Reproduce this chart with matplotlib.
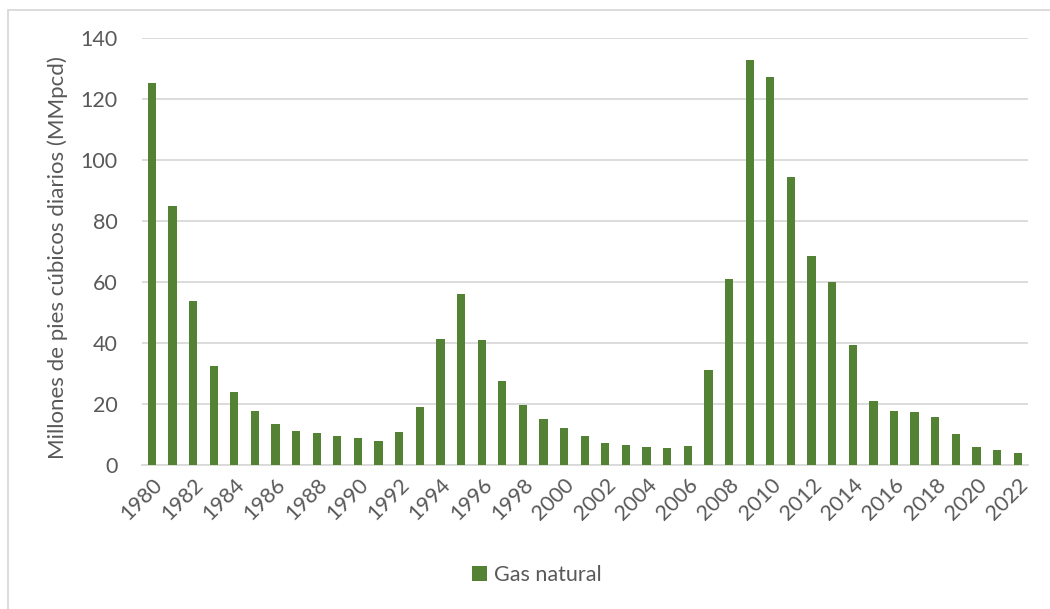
import matplotlib
matplotlib.use("Agg")
import matplotlib.pyplot as plt
from matplotlib.patches import Rectangle
import numpy as np

years = list(range(1980, 2023))
gas_natural = [
    125.1, 84.9, 53.7, 32.6, 23.8, 17.8, 13.4, 11.0, 10.5, 9.4,
    8.9, 7.8, 10.8, 18.9, 41.4, 56.0, 41.1, 27.4, 19.7, 15.2,
    12.2, 9.4, 7.2, 6.5, 5.9, 5.5, 6.1, 31.1, 60.9, 132.8,
    127.3, 94.4, 68.4, 59.9, 39.4, 21.1, 17.6, 17.5, 15.6, 10.1,
    5.9, 4.8, 3.8,
]
y_ticks = [0, 20, 40, 60, 80, 100, 120, 140]
y_label = "Millones de pies cúbicos diarios (MMpcd)"
series_name = "Gas natural"

plt.rcParams["font.family"] = ["Lato", "DejaVu Sans"]
text_color = "#595959"
bar_color = "#548235"
grid_color = "#d9d9d9"

W, H = 1050, 609
fig = plt.figure(figsize=(W / 100, H / 100), dpi=100)
ax = fig.add_axes([141.5 / W, 1 - 465 / H, (1028 - 141.5) / W, (465 - 38) / H])

x = np.arange(len(years))
ax.bar(x, gas_natural, width=0.4, color=bar_color, label=series_name, zorder=3)

ax.set_xlim(-0.5, len(years) - 0.5)
ax.set_ylim(0, 140)
ax.set_yticks(y_ticks)
ax.set_yticklabels([str(v) for v in y_ticks])
ax.set_xticks(x[::2])
ax.set_xticklabels([str(y) for y in years[::2]], rotation=45, ha="right",
                   rotation_mode="anchor")

ax.grid(axis="y", color=grid_color, linewidth=1.3, zorder=0)
for side in ("top", "right", "left"):
    ax.spines[side].set_visible(False)
ax.spines["bottom"].set_color(grid_color)
ax.spines["bottom"].set_linewidth(1.3)
ax.tick_params(axis="both", length=0, labelsize=15.5, colors=text_color)
ax.tick_params(axis="y", pad=17)
ax.tick_params(axis="x", pad=7)

ax.set_ylabel(y_label, fontsize=16, color=text_color, labelpad=9)
ax.yaxis.label.set_y(0.485)

leg = fig.legend(loc="center", bbox_to_anchor=(537 / W, 1 - 575 / H),
                 frameon=False, fontsize=15.5, handlelength=0.7,
                 handleheight=0.7, handletextpad=0.3)
for t in leg.get_texts():
    t.set_color(text_color)

# chart frame
fig.patches.append(Rectangle((8 / W, -0.1), 1.2, 1 - 9.5 / H + 0.1,
                             transform=fig.transFigure, fill=False,
                             edgecolor=grid_color, linewidth=1.3))

fig.savefig("out.png", dpi=100, facecolor="white")
